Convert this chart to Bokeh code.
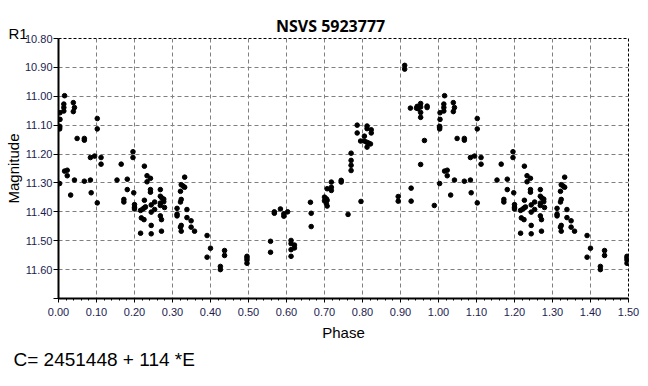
from bokeh.plotting import figure
from bokeh.models import Range1d, FixedTicker, PrintfTickFormatter, Label, ColumnDataSource
from bokeh.embed import file_html
from bokeh.resources import INLINE

title_text = "NSVS 5923777"
band_text = "R1"
x_title = "Phase"
y_title = "Magnitude"
ephemeris_text = "C= 2451448 + 114 *E"

x_ticks = [0.0, 0.1, 0.2, 0.3, 0.4, 0.5, 0.6, 0.7, 0.8, 0.9, 1.0, 1.1, 1.2, 1.3, 1.4, 1.5]
y_ticks = [10.8, 10.9, 11.0, 11.1, 11.2, 11.3, 11.4, 11.5, 11.6]

phase = [
    0.004, 0.004, 0.003, 0.003, 0.003, 0.003,
    0.016, 0.014, 0.014, 0.014,
    0.016, 0.023, 0.023, 0.032,
    0.039, 0.042, 0.039, 0.042, 0.049,
    0.068, 0.068, 0.068,
    0.084, 0.084, 0.086, 0.095,
    0.102, 0.102, 0.102, 0.112, 0.112,
    0.154, 0.165, 0.172, 0.172, 0.181, 0.181,
    0.196, 0.196, 0.198, 0.200, 0.200, 0.200,
    0.216, 0.216, 0.222, 0.226, 0.229, 0.218, 0.225,
    0.226, 0.226, 0.233, 0.242, 0.233, 0.242, 0.242,
    0.244, 0.244, 0.244, 0.244, 0.253, 0.253,
    0.268, 0.268, 0.272, 0.277, 0.277, 0.268, 0.268, 0.279,
    0.268, 0.271, 0.271,
    0.312, 0.312, 0.312, 0.321, 0.323, 0.321,
    0.323, 0.328, 0.332, 0.332, 0.323, 0.321, 0.323,
    0.338, 0.338, 0.349, 0.349, 0.358,
    0.391, 0.391, 0.400, 0.426, 0.426, 0.437, 0.437,
    0.496, 0.496, 0.496, 0.496,
    0.558, 0.558, 0.568, 0.568, 0.584, 0.593, 0.593, 0.603,
    0.612, 0.612, 0.621, 0.621, 0.612, 0.612,
    0.663, 0.665, 0.665,
    0.700, 0.705, 0.707, 0.700, 0.705, 0.707,
    0.707, 0.718, 0.718, 0.718, 0.744, 0.744, 0.762,
    0.770, 0.770, 0.770, 0.770, 0.786, 0.786, 0.796,
    0.795, 0.805, 0.811, 0.816, 0.821, 0.805, 0.812, 0.812, 0.812, 0.823, 0.823,
    0.894, 0.894, 0.911, 0.911, 0.926, 0.928, 0.928,
    0.942, 0.944, 0.946, 0.953, 0.953, 0.953, 0.953, 0.953,
    0.963, 0.970, 0.970, 0.989,
]
mag = [
    11.057, 11.080, 11.104, 11.108, 11.113, 11.302,
    10.998, 11.027, 11.039, 11.051,
    11.259, 11.256, 11.275, 11.342,
    11.022, 11.039, 11.053, 11.290, 11.146,
    11.146, 11.152, 11.294,
    11.212, 11.290, 11.334, 11.207,
    11.077, 11.113, 11.369, 11.212, 11.235,
    11.290, 11.235, 11.357, 11.366, 11.287, 11.323,
    11.192, 11.212, 11.334, 11.375, 11.384, 11.390,
    11.395, 11.474, 11.390, 11.386, 11.383, 11.421, 11.427,
    11.242, 11.360, 11.275, 11.284, 11.296, 11.323, 11.332,
    11.401, 11.376, 11.447, 11.476, 11.366, 11.392,
    11.323, 11.346, 11.352, 11.356, 11.365, 11.370, 11.378, 11.385,
    11.414, 11.427, 11.467,
    11.388, 11.408, 11.414, 11.329, 11.357, 11.366,
    11.306, 11.311, 11.315, 11.280, 11.447, 11.453, 11.467,
    11.392, 11.420, 11.431, 11.453, 11.467,
    11.482, 11.557, 11.526, 11.589, 11.600, 11.534, 11.551,
    11.554, 11.560, 11.567, 11.578,
    11.502, 11.540, 11.400, 11.405, 11.390, 11.407, 11.415, 11.400,
    11.499, 11.510, 11.515, 11.525, 11.531, 11.554,
    11.367, 11.405, 11.451,
    11.349, 11.355, 11.360, 11.362, 11.372, 11.380,
    11.320, 11.326, 11.315, 11.297, 11.291, 11.297, 11.409,
    11.197, 11.222, 11.239, 11.257, 11.100, 11.127, 11.364,
    11.155, 11.155, 11.159, 11.162, 11.165, 11.138, 11.103, 11.112, 11.176, 11.116, 11.127,
    11.347, 11.363, 10.893, 10.906, 11.041, 11.318, 11.363,
    11.041, 11.035, 11.043, 11.025, 11.037, 11.056, 11.073, 11.236,
    11.153, 11.034, 11.039, 11.378,
]

# phase diagram is repeated for phases 1.0 - 1.5
plot_phase = phase + [ph + 1.0 for ph in phase if ph < 0.5]
plot_mag = mag + [m for ph, m in zip(phase, mag) if ph < 0.5]

src = ColumnDataSource(data=dict(x=plot_phase, y=plot_mag))

p = figure(frame_width=570, frame_height=260, x_range=Range1d(0, 1.5), y_range=Range1d(11.70, 10.80),
           output_backend="svg", toolbar_location=None,
           min_border_left=58, min_border_right=20, min_border_top=38, min_border_bottom=88)
p.background_fill_color = "white"
p.border_fill_color = "white"
p.outline_line_color = "black"
p.outline_line_width = 1
p.outline_line_dash = "3 2"

tick_col = "#1c1c50"
p.xaxis.ticker = FixedTicker(ticks=x_ticks, minor_ticks=[i / 50 for i in range(76)])
p.xaxis.formatter = PrintfTickFormatter(format="%.2f")
p.yaxis.ticker = FixedTicker(ticks=y_ticks + [11.7])
p.yaxis.formatter = PrintfTickFormatter(format="%.2f")
p.yaxis.major_label_overrides = {11.7: ""}
for ax in (p.xaxis, p.yaxis):
    ax.axis_line_width = 2
    ax.axis_line_color = "black"
    ax.major_tick_line_color = "black"
    ax.minor_tick_line_color = "black"
    ax.major_tick_in = 0
    ax.minor_tick_in = 0
    ax.major_label_text_font = "Liberation Sans"
    ax.major_label_text_font_size = "11px"
    ax.major_label_text_color = tick_col
p.xaxis.major_tick_out = 4
p.xaxis.minor_tick_out = 2
p.xaxis.major_label_standoff = 5
p.yaxis.major_tick_out = 5
p.yaxis.minor_tick_out = 0
p.yaxis.major_label_standoff = 1

p.xgrid.ticker = FixedTicker(ticks=x_ticks)
p.ygrid.ticker = FixedTicker(ticks=y_ticks)
for g in (p.xgrid, p.ygrid):
    g.grid_line_color = "#808080"
    g.grid_line_dash = "4 3"
    g.grid_line_width = 1

p.scatter("x", "y", source=src, marker="circle", size=4.6, color="black")

p.add_layout(Label(x=0.716, y=10.755, text=title_text, text_font="Open Sans",
                   text_font_style="bold", text_font_size="16px", text_align="center",
                   text_baseline="alphabetic", text_color="black"), "above")
p.add_layout(Label(x=-0.1197, y=11.25, text=y_title, text_font="Liberation Sans",
                   text_font_size="15px", text_align="center", text_baseline="middle",
                   angle=1.5707963, text_color="black"), "left")
p.add_layout(Label(x=-0.1316, y=10.783, text=band_text, text_font="Liberation Sans",
                   text_font_size="15px", text_align="left", text_baseline="alphabetic",
                   text_color="black"), "below")
p.add_layout(Label(x=0.75, y=11.818, text=x_title, text_font="Liberation Sans",
                   text_font_size="15px", text_align="center", text_baseline="alphabetic",
                   text_color="black"), "below")
p.add_layout(Label(x=-0.1184, y=11.911, text=ephemeris_text, text_font="Liberation Sans",
                   text_font_size="19px", text_align="left", text_baseline="alphabetic",
                   text_color="black"), "below")

open("out.html", "w").write(file_html(p, INLINE))
